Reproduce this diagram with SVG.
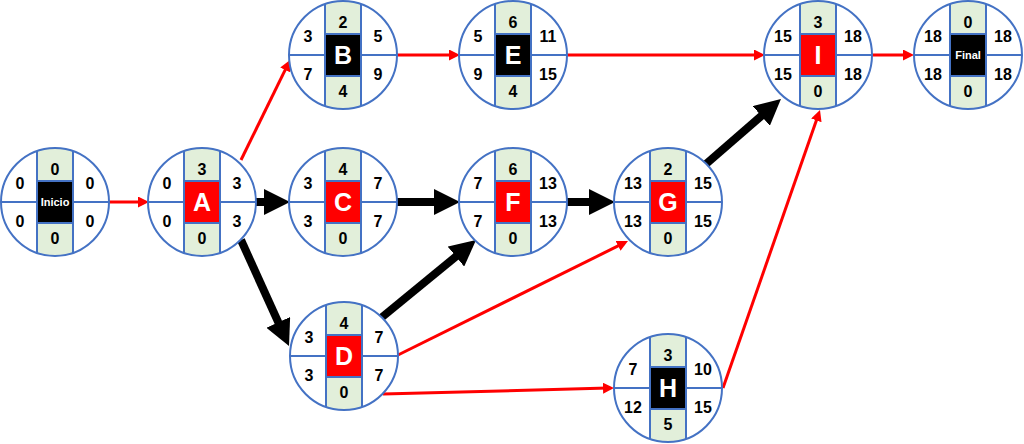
<svg xmlns="http://www.w3.org/2000/svg" xmlns:xlink="http://www.w3.org/1999/xlink" width="1024" height="444" viewBox="0 0 1024 444">
<style>
.n{font-family:"Liberation Sans",Arial,sans-serif;font-weight:bold;font-size:16px;fill:#000;text-anchor:middle}
.l{font-family:"Liberation Sans",Arial,sans-serif;font-weight:bold;font-size:25px;fill:#fff;text-anchor:middle}
.s{font-family:"Liberation Sans",Arial,sans-serif;font-weight:bold;font-size:11px;fill:#fff;text-anchor:middle}
.red{stroke:#FF0000;stroke-width:3;fill:none;marker-end:url(#ar)}
.blk{stroke:#000;stroke-width:8;fill:none;marker-end:url(#ab)}
.bx{stroke:#4472C4;stroke-width:2}
.crit{fill:#FF0000}
.nc{fill:#000}
</style>
<defs>
<clipPath id="cc"><circle cx="0" cy="0" r="54"/></clipPath>
<g id="base">
<circle cx="0" cy="0" r="54" fill="#fff"/>
<g clip-path="url(#cc)">
<rect x="-18" y="-60" width="36" height="120" fill="#E2EFDA"/>
<line x1="-18" y1="-60" x2="-18" y2="60" stroke="#4472C4" stroke-width="2"/>
<line x1="18" y1="-60" x2="18" y2="60" stroke="#4472C4" stroke-width="2"/>
<line x1="-60" y1="0" x2="60" y2="0" stroke="#4472C4" stroke-width="2"/>
</g>
<circle cx="0" cy="0" r="54" fill="none" stroke="#4472C4" stroke-width="2"/>
</g>
<marker id="ar" markerUnits="userSpaceOnUse" markerWidth="11" markerHeight="11" viewBox="0 0 11 11" refX="5" refY="5.5" orient="auto">
<path d="M0,0 L11,5.5 L0,11 z" fill="#FF0000"/>
</marker>
<marker id="ab" markerUnits="userSpaceOnUse" markerWidth="26" markerHeight="26" viewBox="0 0 26 26" refX="16" refY="13" orient="auto">
<path d="M0,0 L26,13 L0,26 z" fill="#000"/>
</marker>
</defs>

<g id="connectors">
<line class="red" x1="109" y1="202" x2="143" y2="202"/>
<line class="red" x1="241" y1="160" x2="287.4" y2="65.4"/>
<line class="red" x1="397" y1="55" x2="454" y2="55"/>
<line class="red" x1="567" y1="55" x2="759" y2="55"/>
<line class="red" x1="872" y1="55" x2="908" y2="55"/>
<line class="red" x1="398" y1="355" x2="622.6" y2="243.7"/>
<line class="red" x1="383" y1="394" x2="608" y2="388.1"/>
<line class="red" x1="723" y1="388" x2="818" y2="115.7"/>
<line class="blk" x1="255" y1="202" x2="280" y2="202"/>
<line class="blk" x1="397" y1="202" x2="450" y2="202"/>
<line class="blk" x1="567" y1="202" x2="605" y2="202"/>
<line class="blk" x1="241" y1="240" x2="284.9" y2="336.9"/>
<line class="blk" x1="381" y1="318" x2="468.3" y2="246.4"/>
<line class="blk" x1="706" y1="164" x2="773.4" y2="105.5"/>
</g>

<g id="inicio" transform="translate(55,202)">
<use xlink:href="#base" href="#base"/>
<rect class="bx nc" x="-18" y="-21" width="36" height="42"/>
<text class="s" x="0" y="4">Inicio</text>
<text class="n" x="0" y="-27">0</text><text class="n" x="0" y="42">0</text>
<text class="n" x="-35" y="-13">0</text><text class="n" x="-35" y="25">0</text>
<text class="n" x="35" y="-13">0</text><text class="n" x="35" y="25">0</text>
</g>

<g id="A" transform="translate(202,202)">
<use xlink:href="#base" href="#base"/>
<rect class="bx crit" x="-18" y="-21" width="36" height="42"/>
<text class="l" x="0" y="9">A</text>
<text class="n" x="0" y="-27">3</text><text class="n" x="0" y="42">0</text>
<text class="n" x="-35" y="-13">0</text><text class="n" x="-35" y="25">0</text>
<text class="n" x="35" y="-13">3</text><text class="n" x="35" y="25">3</text>
</g>

<g id="B" transform="translate(343,55)">
<use xlink:href="#base" href="#base"/>
<rect class="bx nc" x="-18" y="-21" width="36" height="42"/>
<text class="l" x="0" y="9">B</text>
<text class="n" x="0" y="-27">2</text><text class="n" x="0" y="42">4</text>
<text class="n" x="-35" y="-13">3</text><text class="n" x="-35" y="25">7</text>
<text class="n" x="35" y="-13">5</text><text class="n" x="35" y="25">9</text>
</g>

<g id="C" transform="translate(343,202)">
<use xlink:href="#base" href="#base"/>
<rect class="bx crit" x="-18" y="-21" width="36" height="42"/>
<text class="l" x="0" y="9">C</text>
<text class="n" x="0" y="-27">4</text><text class="n" x="0" y="42">0</text>
<text class="n" x="-35" y="-13">3</text><text class="n" x="-35" y="25">3</text>
<text class="n" x="35" y="-13">7</text><text class="n" x="35" y="25">7</text>
</g>

<g id="D" transform="translate(344,356)">
<use xlink:href="#base" href="#base"/>
<rect class="bx crit" x="-18" y="-21" width="36" height="42"/>
<text class="l" x="0" y="9">D</text>
<text class="n" x="0" y="-27">4</text><text class="n" x="0" y="42">0</text>
<text class="n" x="-35" y="-13">3</text><text class="n" x="-35" y="25">3</text>
<text class="n" x="35" y="-13">7</text><text class="n" x="35" y="25">7</text>
</g>

<g id="E" transform="translate(513,55)">
<use xlink:href="#base" href="#base"/>
<rect class="bx nc" x="-18" y="-21" width="36" height="42"/>
<text class="l" x="0" y="9">E</text>
<text class="n" x="0" y="-27">6</text><text class="n" x="0" y="42">4</text>
<text class="n" x="-35" y="-13">5</text><text class="n" x="-35" y="25">9</text>
<text class="n" x="35" y="-13">11</text><text class="n" x="35" y="25">15</text>
</g>

<g id="F" transform="translate(513,202)">
<use xlink:href="#base" href="#base"/>
<rect class="bx crit" x="-18" y="-21" width="36" height="42"/>
<text class="l" x="0" y="9">F</text>
<text class="n" x="0" y="-27">6</text><text class="n" x="0" y="42">0</text>
<text class="n" x="-35" y="-13">7</text><text class="n" x="-35" y="25">7</text>
<text class="n" x="35" y="-13">13</text><text class="n" x="35" y="25">13</text>
</g>

<g id="G" transform="translate(668,202)">
<use xlink:href="#base" href="#base"/>
<rect class="bx crit" x="-18" y="-21" width="36" height="42"/>
<text class="l" x="0" y="9">G</text>
<text class="n" x="0" y="-27">2</text><text class="n" x="0" y="42">0</text>
<text class="n" x="-35" y="-13">13</text><text class="n" x="-35" y="25">13</text>
<text class="n" x="35" y="-13">15</text><text class="n" x="35" y="25">15</text>
</g>

<g id="H" transform="translate(668,388)">
<use xlink:href="#base" href="#base"/>
<rect class="bx nc" x="-18" y="-21" width="36" height="42"/>
<text class="l" x="0" y="9">H</text>
<text class="n" x="0" y="-27">3</text><text class="n" x="0" y="42">5</text>
<text class="n" x="-35" y="-13">7</text><text class="n" x="-35" y="25">12</text>
<text class="n" x="35" y="-13">10</text><text class="n" x="35" y="25">15</text>
</g>

<g id="I" transform="translate(818,55)">
<use xlink:href="#base" href="#base"/>
<rect class="bx crit" x="-18" y="-21" width="36" height="42"/>
<text class="l" x="0" y="9">I</text>
<text class="n" x="0" y="-27">3</text><text class="n" x="0" y="42">0</text>
<text class="n" x="-35" y="-13">15</text><text class="n" x="-35" y="25">15</text>
<text class="n" x="35" y="-13">18</text><text class="n" x="35" y="25">18</text>
</g>

<g id="final" transform="translate(968,55)">
<use xlink:href="#base" href="#base"/>
<rect class="bx nc" x="-18" y="-21" width="36" height="42"/>
<text class="s" x="0" y="4">Final</text>
<text class="n" x="0" y="-27">0</text><text class="n" x="0" y="42">0</text>
<text class="n" x="-35" y="-13">18</text><text class="n" x="-35" y="25">18</text>
<text class="n" x="35" y="-13">18</text><text class="n" x="35" y="25">18</text>
</g>
</svg>
